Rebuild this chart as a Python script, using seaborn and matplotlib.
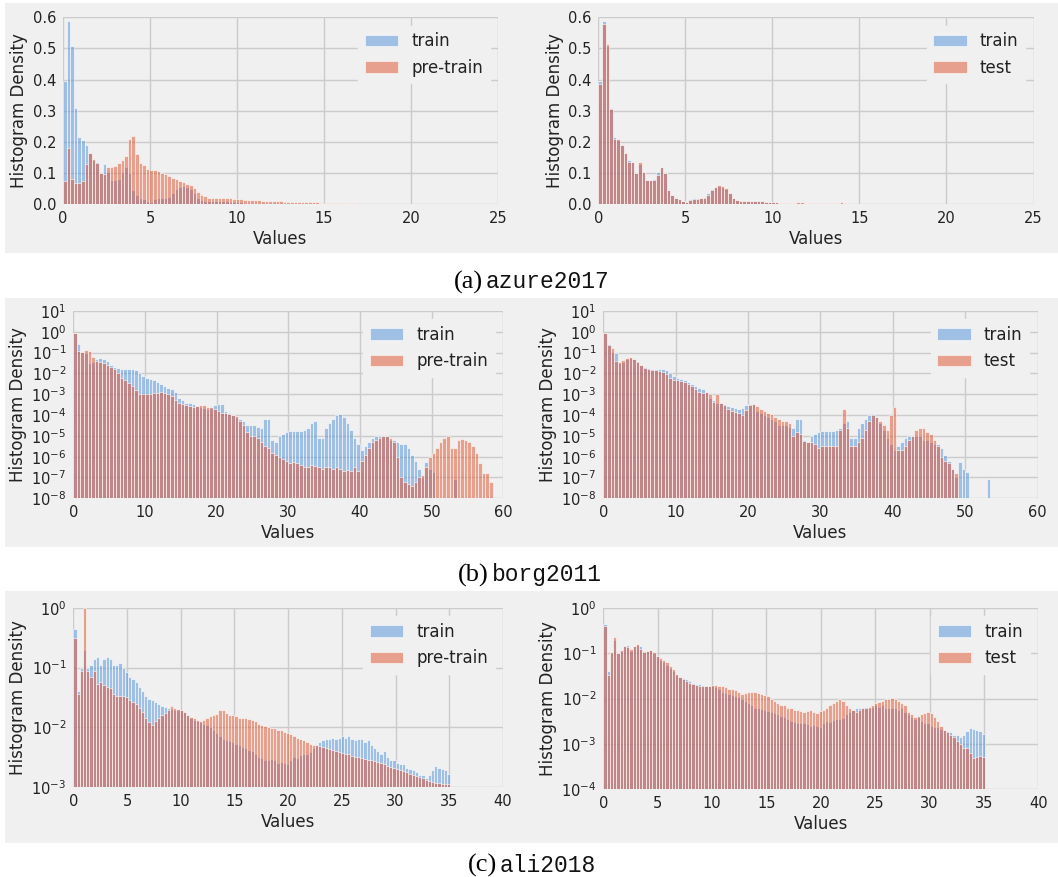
import numpy as np
import pandas as pd
import seaborn as sns
import matplotlib
matplotlib.use("Agg")
import matplotlib.pyplot as plt
from matplotlib.patches import Rectangle
from matplotlib.ticker import FixedLocator, NullLocator, LogFormatterSciNotation, FormatStrFormatter

nan = np.nan

# ---------------- data (bin heights) ----------------
# azure2017: linear density axis, bin width 0.207
azure_bin_width = 0.207
azure_train = [0.397, 0.589, 0.507, 0.31, 0.216, 0.205, 0.19, 0.163, 0.143, 0.134,
               0.1, 0.13, 0.104, 0.077, 0.077, 0.08, 0.104, 0.118, 0.1, 0.045,
               0.03, 0.018, 0.016, 0.01, 0.008, 0.015, 0.02, 0.019, 0.018, 0.023,
               0.034, 0.048, 0.056, 0.058, 0.055, 0.048, 0.034, 0.02, 0.013, 0.01,
               0.011, 0.011, 0.011, 0.01, 0.01, 0.009, 0.007, 0.006, 0.005, 0.005,
               0.004, 0.004, 0.003, 0.003, 0.003, 0.004, 0.004, 0.003, 0.003, 0.003,
               0.002, 0.002, 0.002, 0.002, 0.002, 0.002, 0.003, 0.003, 0.002, 0.002,
               0.002]
azure_test = [0.386, 0.578, 0.516, 0.307, 0.208, 0.208, 0.19, 0.163, 0.136, 0.134,
              0.1, 0.136, 0.104, 0.077, 0.077, 0.077, 0.093, 0.118, 0.1, 0.045,
              0.03, 0.018, 0.016, 0.01, 0.008, 0.012, 0.017, 0.017, 0.018, 0.02,
              0.028, 0.045, 0.056, 0.061, 0.059, 0.05, 0.034, 0.02, 0.013, 0.01,
              0.011, 0.011, 0.011, 0.01, 0.01, 0.009, 0.008, 0.006, 0.005, 0.005,
              0.004, 0.004, 0.003, 0.003, 0.003, 0.005, 0.006, 0.004, 0.003, 0.002,
              0.002, 0.002, 0.002, 0.002, 0.002, 0.002, 0.004, 0.005, 0.003, 0.002,
              0.002]
azure_pretrain = [0.075, 0.18, 0.08, 0.068, 0.066, 0.075, 0.13, 0.163, 0.146, 0.133,
                  0.1, 0.095, 0.12, 0.12, 0.122, 0.133, 0.14, 0.153, 0.21, 0.22,
                  0.16, 0.133, 0.124, 0.114, 0.11, 0.11, 0.105, 0.1, 0.095, 0.09,
                  0.085, 0.08, 0.075, 0.07, 0.065, 0.06, 0.05, 0.04, 0.03, 0.025,
                  0.02, 0.02, 0.02, 0.019, 0.019, 0.018, 0.018, 0.017, 0.016, 0.015,
                  0.013, 0.012, 0.012, 0.012, 0.012, 0.011, 0.011, 0.011, 0.01, 0.01,
                  0.009, 0.008, 0.008, 0.007, 0.007, 0.006, 0.006, 0.006, 0.005, 0.005,
                  0.005, 0.004, 0.004, 0.004, 0.004, 0.003, 0.003, 0.003, 0.003, 0.002,
                  0.002, 0.002]

# borg2011: log density axis, exponents (log10), bin width 0.5
borg_bin_width = 0.5
borg_train_log10 = [-0.05, -0.6, -0.95, -1.0, -1.5, -1.45, -1.3, -1.25, -1.3, -1.4,
                    -1.6, -1.7, -1.75, -1.8, -1.8, -1.8, -1.8, -1.85, -2.0, -2.1,
                    -2.2, -2.25, -2.3, -2.4, -2.5, -2.6, -2.7, -2.75, -2.9, -3.2,
                    -3.3, -3.4, -3.4, -3.45, -3.55, -3.6, -3.65, -3.7, -3.65, -3.5,
                    -3.45, -3.45, -3.8, -3.9, -4.0, -4.1, -4.2, -4.3, -4.5, -4.5,
                    -4.5, -4.55, -4.6, -4.2, -4.2, -5.2, -5.3, -5.0, -4.9, -4.8,
                    -4.75, -4.75, -4.75, -4.75, -4.7, -4.6, -4.4, -4.3, -5.1, -5.1,
                    -4.6, -4.4, -4.2, -4.0, -3.95, -4.1, -4.4, -4.7, -5.1, -5.4,
                    -5.7, -5.5, -5.3, -5.1, -5.0, -5.0, -5.0, -5.0, -5.2, -5.2,
                    -5.3, -5.4, -5.4, -5.6, -5.9, -6.2, -6.6, -7.0, -6.25, -6.6,
                    -6.75, nan, nan, nan, nan, nan, -7.05, nan, nan, nan,
                    nan, nan, nan, nan, nan, nan, nan]
borg_pretrain_log10 = [-0.05, -0.9, -0.95, -0.85, -0.9, -1.2, -1.4, -1.45, -1.5, -1.6,
                       -1.7, -1.8, -2.0, -2.2, -2.3, -2.45, -2.6, -2.8, -3.0, -3.0,
                       -3.0, -3.0, -2.95, -2.95, -2.9, -2.95, -3.0, -3.1, -3.3, -3.4,
                       -3.45, -3.5, -3.55, -3.6, -3.55, -3.5, -3.5, -3.6, -3.6, -3.7,
                       -3.8, -3.9, -3.9, -3.95, -4.0, -4.05, -4.3, -4.5, -4.8, -5.0,
                       -5.0, -5.1, -5.3, -5.5, -5.6, -5.8, -5.9, -6.0, -6.1, -6.2,
                       -6.3, -6.25, -6.3, -6.4, -6.5, -6.5, -6.4, -6.45, -6.5, -6.6,
                       -6.5, -6.5, -6.6, -6.5, -6.6, -6.7, -6.65, -6.7, -6.5, -6.7,
                       -6.2, -5.9, -5.6, -5.3, -5.2, -5.1, -5.0, -5.0, -5.1, -5.3,
                       -6.0, -7.0, -7.2, -7.3, -7.4, -7.2, -7.0, -6.9, -6.5, -6.0,
                       -5.8, -5.6, -5.3, -5.1, -5.0, -5.6, -5.6, -5.2, -5.15, -5.2,
                       -5.3, -5.5, -5.8, -6.3, -6.8, -6.8, -7.2]
borg_test_log10 = [-0.05, -0.65, -0.8, -1.4, -1.45, -1.35, -1.25, -1.2, -1.3, -1.45,
                   -1.6, -1.75, -1.8, -1.85, -1.85, -1.9, -1.95, -2.05, -2.2, -2.3,
                   -2.3, -2.35, -2.4, -2.5, -2.6, -2.75, -2.9, -2.95, -2.9, -3.0,
                   -3.35, -3.0, -3.4, -3.5, -3.7, -3.8, -3.85, -3.9, -4.0, -3.75,
                   -3.5, -3.45, -3.55, -3.7, -3.8, -3.9, -3.95, -4.1, -4.2, -4.3,
                   -4.3, -4.4, -5.0, -4.8, -4.9, -5.25, -5.3, -5.3, -5.4, -5.6,
                   -5.5, -5.5, -5.5, -5.5, -5.5, -4.7, -3.7, -4.6, -5.5, -5.5,
                   -5.3, -5.1, -4.7, -4.3, -4.0, -4.1, -4.3, -4.5, -4.7, -4.0,
                   -3.6, -5.7, -5.7, -5.5, -5.2, -5.0, -4.7, -4.6, -4.6, -4.8,
                   -4.9, -5.2, -5.5, -6.0, -6.2, -6.3, -6.6, -6.8, nan, nan,
                   nan, nan, nan, nan, nan, nan, nan, nan, nan, nan,
                   nan, nan, nan, nan, nan, nan, nan]

# ali2018: log density axis, exponents (log10), bin width 0.3
ali_bin_width = 0.3
ali_train_log10 = [-0.35, -1.4, -1.0, -0.7, -1.0, -0.95, -0.85, -0.82, -0.95, -0.85,
                   -0.82, -0.85, -0.95, -0.95, -0.92, -1.0, -1.07, -1.15, -1.2, -1.25,
                   -1.32, -1.4, -1.48, -1.52, -1.55, -1.58, -1.62, -1.65, -1.67, -1.68,
                   -1.7, -1.72, -1.72, -1.72, -1.75, -1.8, -1.85, -1.88, -1.9, -1.92,
                   -1.95, -1.97, -2.0, -2.05, -2.1, -2.15, -2.2, -2.22, -2.24, -2.25,
                   -2.28, -2.3, -2.33, -2.35, -2.38, -2.4, -2.45, -2.5, -2.52, -2.55,
                   -2.55, -2.54, -2.56, -2.6, -2.58, -2.6, -2.62, -2.55, -2.5, -2.52,
                   -2.47, -2.45, -2.45, -2.42, -2.35, -2.3, -2.25, -2.22, -2.2, -2.2,
                   -2.18, -2.2, -2.18, -2.15, -2.18, -2.15, -2.2, -2.22, -2.2, -2.2,
                   -2.25, -2.22, -2.3, -2.35, -2.4, -2.45, -2.4, -2.5, -2.55, -2.55,
                   -2.6, -2.62, -2.62, -2.68, -2.7, -2.72, -2.75, -2.8, -2.8, -2.85,
                   -2.8, -2.72, -2.65, -2.68, -2.7, -2.72, -2.78]
ali_pretrain_log10 = [-0.5, -1.45, -1.05, 0.0, -1.05, -1.15, -1.05, -1.28, -1.25, -1.3,
                      -1.33, -1.35, -1.45, -1.47, -1.48, -1.48, -1.5, -1.55, -1.58, -1.62,
                      -1.68, -1.75, -1.85, -1.92, -1.97, -1.9, -1.84, -1.8, -1.77, -1.72,
                      -1.65, -1.68, -1.7, -1.72, -1.75, -1.8, -1.83, -1.85, -1.88, -1.9,
                      -1.88, -1.85, -1.82, -1.8, -1.78, -1.72, -1.72, -1.76, -1.8, -1.8,
                      -1.82, -1.84, -1.85, -1.85, -1.86, -1.88, -1.9, -1.95, -1.97, -1.98,
                      -2.0, -2.02, -2.02, -2.05, -2.05, -2.08, -2.1, -2.12, -2.15, -2.18,
                      -2.2, -2.22, -2.25, -2.28, -2.3, -2.3, -2.32, -2.33, -2.35, -2.37,
                      -2.38, -2.4, -2.42, -2.43, -2.45, -2.45, -2.48, -2.5, -2.5, -2.52,
                      -2.53, -2.55, -2.55, -2.57, -2.58, -2.6, -2.62, -2.65, -2.67, -2.68,
                      -2.7, -2.72, -2.74, -2.76, -2.78, -2.8, -2.82, -2.84, -2.86, -2.88,
                      -2.9, -2.92, -2.93, -2.94, -2.95, -2.95, -2.96]
ali_test_log10 = [-0.4, -1.47, -0.97, -0.65, -1.0, -0.93, -0.85, -0.86, -0.9, -0.85,
                  -0.8, -0.9, -0.97, -0.95, -0.92, -0.97, -1.05, -1.1, -1.15, -1.2,
                  -1.28, -1.35, -1.45, -1.52, -1.58, -1.62, -1.65, -1.68, -1.7, -1.72,
                  -1.72, -1.72, -1.72, -1.7, -1.7, -1.72, -1.72, -1.75, -1.78, -1.8,
                  -1.82, -1.85, -1.9, -1.88, -1.85, -1.85, -1.85, -1.87, -1.9, -1.93,
                  -1.95, -2.0, -2.05, -2.1, -2.15, -2.15, -2.2, -2.2, -2.25, -2.25,
                  -2.28, -2.3, -2.28, -2.25, -2.3, -2.32, -2.28, -2.25, -2.2, -2.15,
                  -2.1, -2.05, -2.0, -2.05, -2.15, -2.2, -2.25, -2.3, -2.25, -2.22,
                  -2.2, -2.18, -2.15, -2.1, -2.08, -2.05, -2.0, -2.02, -1.98, -2.0,
                  -2.05, -2.1, -2.15, -2.3, -2.35, -2.4, -2.38, -2.35, -2.32, -2.3,
                  -2.32, -2.4, -2.5, -2.6, -2.7, -2.75, -2.8, -2.85, -2.95, -3.0,
                  -3.1, -3.1, -3.2, -3.32, -3.3, -3.28, -3.3]

captions = [("(a)", "azure2017"), ("(b)", "borg2011"), ("(c)", "ali2018")]
legend_labels = [("train", "pre-train"), ("train", "test")]

# ---------------- style ----------------
sns.set_theme(style="darkgrid")
plt.rcParams["font.family"] = ["DejaVu Sans"]
plt.rcParams["mathtext.fontset"] = "dejavusans"

BG = "#f0f0f0"
GRID = "#cbcbcb"
BLUE = "#5090dc"
RED = "#e0502e"
TXT = "#222222"

W, H = 1058, 877
fig = plt.figure(figsize=(W / 100, H / 100), dpi=100, facecolor="white")


def frect(l, t, r, b):
    return [l / W, 1 - b / H, (r - l) / W, (b - t) / H]


bands = [(5, 3, 1058, 253), (5, 298, 1058, 547), (5, 591, 1058, 843)]
for (l, t, r, b) in bands:
    fig.add_artist(Rectangle((l / W, 1 - b / H), (r - l) / W, (b - t) / H,
                             transform=fig.transFigure, facecolor=BG,
                             edgecolor="none", zorder=-10))

axes_px = [(63, 17.4, 498, 204), (598.3, 17.4, 1033.5, 204),
           (73.3, 311, 503.3, 498.3), (603.3, 311, 1037.5, 498.3),
           (73.3, 608, 503, 786.7), (603.3, 608, 1038.3, 789)]


def to_vals(lst, n, log=False):
    a = np.full(n, 0.0)
    v = np.array(lst, dtype=float)
    if log:
        v = np.power(10.0, v)
    v = np.nan_to_num(v, nan=0.0)
    a[:len(v)] = v
    return a


def draw(ax, width, series_a, series_b, labels):
    n = max(len(series_a[0]), len(series_b[0]))
    centers = (np.arange(n) + 0.5) * width
    va = to_vals(series_a[0], n, series_a[1])
    vb = to_vals(series_b[0], n, series_b[1])
    df = pd.DataFrame({"x": centers, "a": va, "b": vb})
    for col, color, lab in (("a", BLUE, labels[0]), ("b", RED, labels[1])):
        sns.histplot(data=df, x="x", weights=col, binwidth=width,
                     binrange=(0.0, n * width), color=color, alpha=0.5,
                     edgecolor="white", linewidth=0.4, ax=ax, label=lab)


specs = [
    (azure_bin_width, (azure_train, False), (azure_pretrain, False), 0),
    (azure_bin_width, (azure_train, False), (azure_test, False), 1),
    (borg_bin_width, (borg_train_log10, True), (borg_pretrain_log10, True), 0),
    (borg_bin_width, (borg_train_log10, True), (borg_test_log10, True), 1),
    (ali_bin_width, (ali_train_log10, True), (ali_pretrain_log10, True), 0),
    (ali_bin_width, (ali_train_log10, True), (ali_test_log10, True), 1),
]

for i, (width, sa, sb, li) in enumerate(specs):
    ax = fig.add_axes(frect(*axes_px[i]))
    ax.set_zorder(1)
    ax.set_facecolor(BG)
    ax.set_axisbelow(True)
    draw(ax, width, sa, sb, legend_labels[li])
    row = i // 2
    if row == 0:
        ax.set_xlim(0, 25)
        ax.set_ylim(0, 0.6)
        ax.xaxis.set_major_locator(FixedLocator([0, 5, 10, 15, 20, 25]))
        ax.yaxis.set_major_locator(FixedLocator([0, 0.1, 0.2, 0.3, 0.4, 0.5, 0.6]))
        ax.yaxis.set_major_formatter(FormatStrFormatter("%.1f"))
    else:
        ax.set_yscale("log")
        if row == 1:
            ax.set_xlim(0, 60)
            ax.set_ylim(1e-8, 1e1)
            ax.xaxis.set_major_locator(FixedLocator([0, 10, 20, 30, 40, 50, 60]))
            ax.yaxis.set_major_locator(FixedLocator([10.0 ** k for k in range(-8, 2)]))
        else:
            ax.set_xlim(0, 40)
            ax.xaxis.set_major_locator(FixedLocator([0, 5, 10, 15, 20, 25, 30, 35, 40]))
            if i == 4:
                ax.set_ylim(1e-3, 1e0)
                ax.yaxis.set_major_locator(FixedLocator([10.0 ** k for k in range(-3, 1)]))
            else:
                ax.set_ylim(1e-4, 1e0)
                ax.yaxis.set_major_locator(FixedLocator([10.0 ** k for k in range(-4, 1)]))
        ax.yaxis.set_major_formatter(LogFormatterSciNotation())
        ax.yaxis.set_minor_locator(NullLocator())
    ax.grid(True, color=GRID, linewidth=1.0)
    for s in ax.spines.values():
        s.set_visible(False)
    ax.tick_params(axis="both", length=0, labelsize=10.5, colors=TXT, pad=5)
    ax.set_xlabel("Values", fontsize=12, color=TXT, labelpad=3)
    ax.set_ylabel("Histogram Density", fontsize=12, color=TXT, labelpad=3)
    leg = ax.legend(loc="upper right", fontsize=12, frameon=True, facecolor=BG,
                    edgecolor=BG, framealpha=1.0, fancybox=False)
    for t in leg.get_texts():
        t.set_color(TXT)

cap_y = [282, 575, 865]
cap_x = [483, 489, 497]
for (lab, name), y, x in zip(captions, cap_y, cap_x):
    fig.text(x / W, 1 - y / H, lab, ha="right", va="center", fontsize=19,
             family=["Liberation Serif", "DejaVu Serif"], color="black")
    fig.text((x + 3) / W, 1 - y / H, name, ha="left", va="center", fontsize=16.5,
             family=["Liberation Mono", "DejaVu Sans Mono"], color="#111111")

fig.savefig("out.png", dpi=100, facecolor="white")
